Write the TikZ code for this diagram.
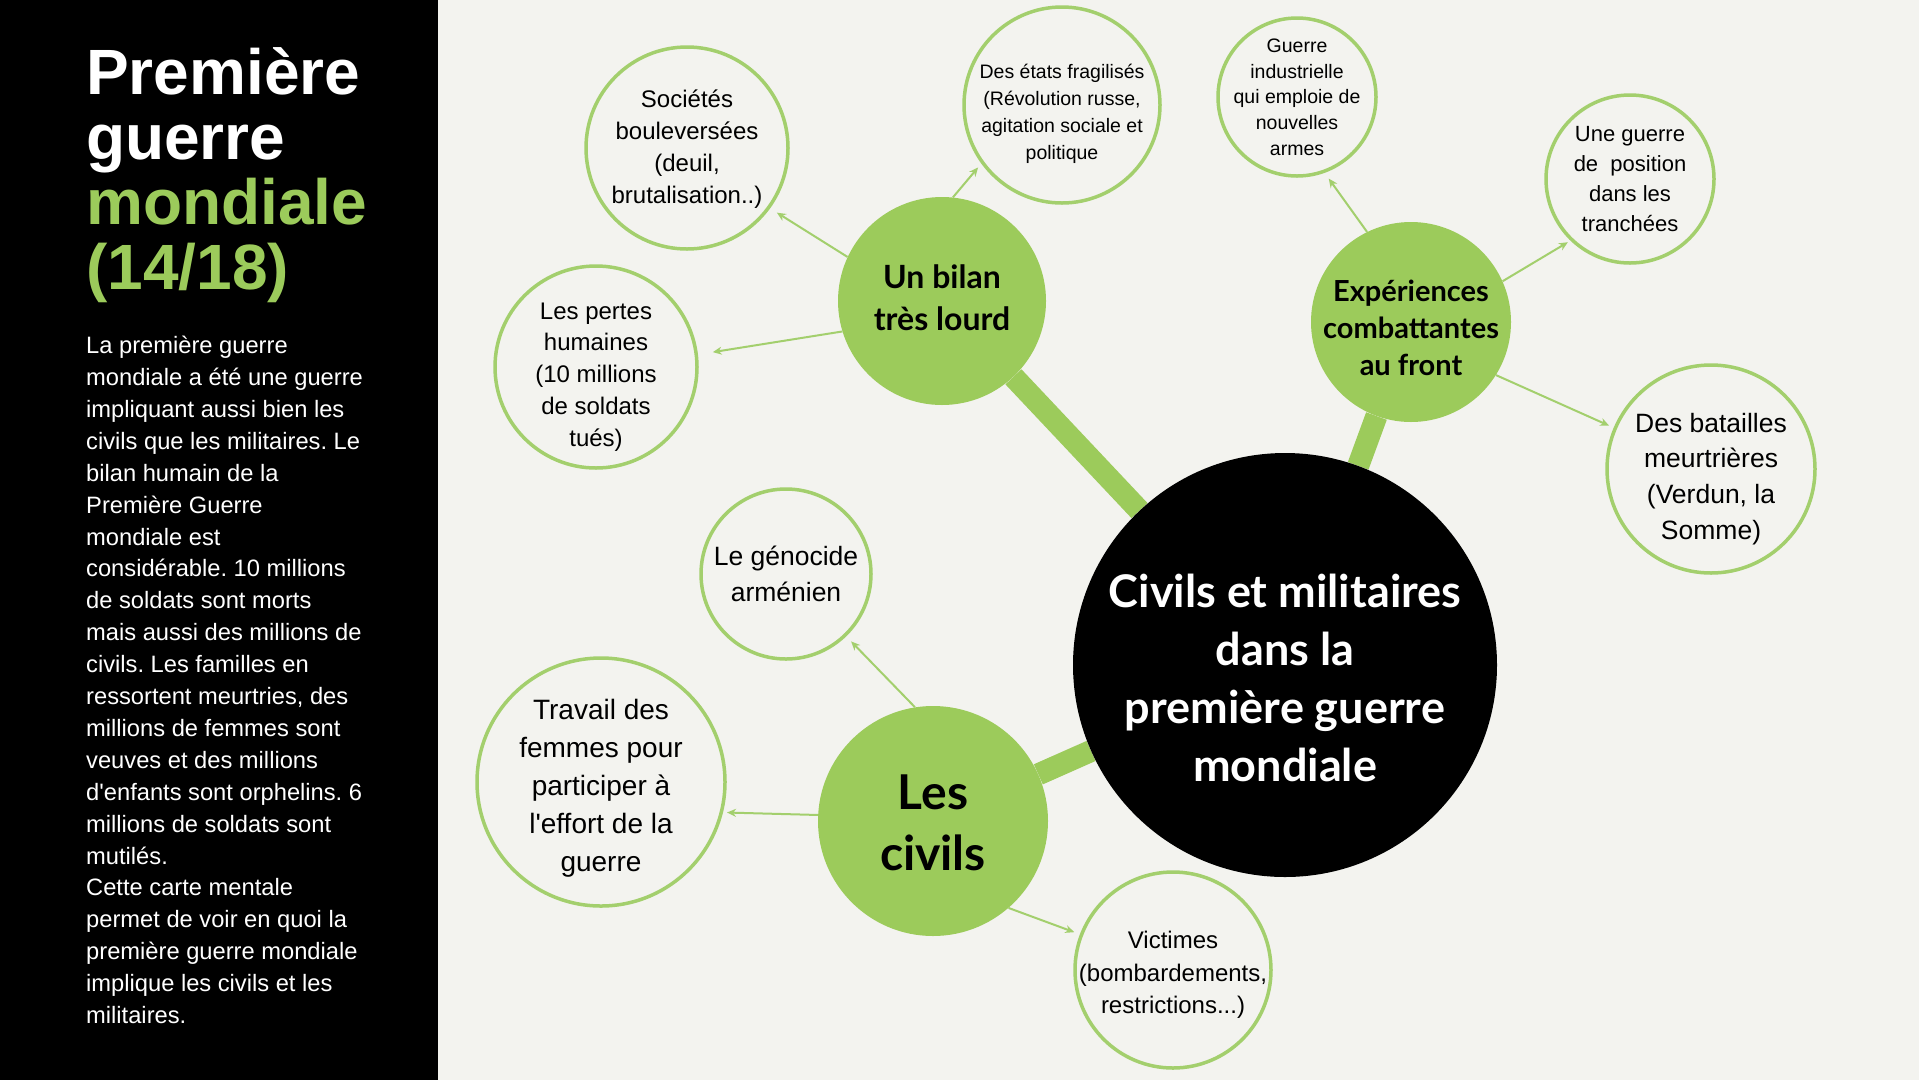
\documentclass[tikz,border=0pt]{standalone}
\usepackage{fontspec}
\setmainfont{Liberation Sans}[Ligatures=TeXOff]
\newfontfamily\latofont{Lato}
\usetikzlibrary{arrows.meta,backgrounds}
\definecolor{bg}{HTML}{F3F3EF}
\definecolor{grn}{HTML}{9CCB5B}
\definecolor{grnline}{HTML}{A3CF6D}
\newcommand{\fs}[2]{\fontsize{#1}{#2}\selectfont}
\frenchspacing
\begin{document}
\begin{tikzpicture}[x=1pt,y=-1pt,
  leaf/.style={circle,draw=grnline,line width=3.5pt,fill=bg,inner sep=0pt},
  hub/.style={circle,fill=grn,inner sep=0pt},
  txt/.style={inner sep=0pt,align=center,text=black},
  arr/.style={grnline,line width=2pt,-{Stealth[length=9pt,width=8pt]}},
  trunk/.style={grn,line width=22pt}]
\useasboundingbox (0,0) rectangle (1919,1080);

% left panel text
\node[anchor=north west,inner sep=0pt,align=left,text=white,
  font=\bfseries\fs{64}{65}] (title) at (86,47)
  {Première\\guerre\\\textcolor{grn}{mondiale}\\\textcolor{grn}{(14/18)}};
\node[anchor=north west,inner sep=0pt,align=left,text=white,
  font=\fs{23.7}{31.9}] (body) at (86,336)
  {La première guerre\\mondiale a été une guerre\\impliquant aussi bien les\\civils que les militaires. Le\\bilan humain de la\\Première Guerre\\mondiale est\\considérable. 10 millions\\de soldats sont morts\\mais aussi des millions de\\civils. Les familles en\\ressortent meurtries, des\\millions de femmes sont\\veuves et des millions\\d'enfants sont orphelins. 6\\millions de soldats sont\\mutilés.\\Cette carte mentale\\permet de voir en quoi la\\première guerre mondiale\\implique les civils et les\\militaires.};

% hubs
\node[circle,fill=black,inner sep=0pt,minimum size=424pt] (ctr) at (1285,665) {};
\node[txt,text=white,font=\latofont\bfseries\fs{45}{58}] (ctrt) at ([yshift=-13pt]ctr.center)
  {Civils et militaires\\dans la\\première guerre\\mondiale};
\node[hub,minimum size=208pt] (bilan) at (942,301) {};
\node[txt,font=\latofont\bfseries\fs{32}{41.6}] (bilant) at ([yshift=3pt]bilan.center) {Un bilan\\très lourd};
\node[hub,minimum size=200pt] (exp) at (1411,322) {};
\node[txt,font=\latofont\bfseries\fs{29}{36.7}] (expt) at ([yshift=-6pt]exp.center) {Expériences\\combattantes\\au front};
\node[hub,minimum size=230pt] (civ) at (933,821) {};
\node[txt,font=\latofont\bfseries\fs{48}{61}] (civt) at ([yshift=-2pt]civ.center) {Les\\civils};

% leaves
\node[leaf,minimum size=202pt] (soc) at (687,148) {};
\node[txt,font=\fs{24}{31.8}] (soct) at ([yshift=-1pt]soc.center) {Sociétés\\bouleversées\\(deuil,\\brutalisation..)};
\node[leaf,minimum size=196pt] (etats) at (1062,105) {};
\node[txt,font=\fs{19.5}{27}] (etatst) at ([yshift=-8.5pt]etats.center) {Des états fragilisés\\(Révolution russe,\\agitation sociale et\\politique};
\node[leaf,minimum size=202pt] (pertes) at (596,367) {};
\node[txt,font=\fs{24}{31.8}] (pertest) at ([yshift=-10pt]pertes.center) {Les pertes\\humaines\\(10 millions\\de soldats\\tués)};
\node[leaf,minimum size=158pt] (gi) at (1297,97) {};
\node[txt,font=\fs{19.5}{25.7}] (git) at (gi.center) {Guerre\\industrielle\\qui emploie de\\nouvelles\\armes};
\node[leaf,minimum size=168pt] (pos) at (1630,179) {};
\node[txt,font=\fs{22}{29.7}] (post) at (pos.center) {Une guerre\\de~ position\\dans les\\tranchées};
\node[leaf,minimum size=208pt] (bat) at (1711,469) {};
\node[txt,font=\fs{26.5}{35.9}] (batt) at ([yshift=-10pt]bat.center) {Des batailles\\meurtrières\\(Verdun, la\\Somme)};
\node[leaf,minimum size=170pt] (gen) at (786,574) {};
\node[txt,font=\fs{26.5}{35.5}] (gent) at (gen.center) {Le génocide\\arménien};
\node[leaf,minimum size=248pt] (fem) at (601,782) {};
\node[txt,font=\fs{28}{38}] (femt) at ([yshift=-6pt]fem.center) {Travail des\\femmes pour\\participer à\\l'effort de la\\guerre};
\node[leaf,minimum size=196pt] (vic) at (1173,970) {};
\node[txt,font=\fs{24}{32.4}] (vict) at ([yshift=-5pt]vic.center) {Victimes\\(bombardements,\\restrictions...)};

% arrows
\draw[arr,shorten >=8pt] (bilan.155.8) -- (soc.-36);
\draw[arr,shorten >=5pt] (bilan.84.6) -- (etats.216);
\draw[arr,shorten >=15pt] (bilan.197.6) -- (pertes.7.2);
\draw[arr,shorten >=7pt] (exp.116.9) -- (gi.-70);
\draw[arr,shorten >=3pt] (exp.24.4) -- (pos.226.7);
\draw[arr,shorten >=5pt] (exp.-32.5) -- (bat.157);
\draw[arr,shorten >=7pt] (civ.99.8) -- (gen.-46);
\draw[arr,shorten >=4pt] (civ.177) -- (fem.-14.3);
\draw[arr,shorten >=6pt] (civ.-49.8) -- (vic.159);

\begin{scope}[on background layer]
\fill[bg] (0,0) rectangle (1919,1080);
\fill[black] (0,0) rectangle (438,1080);
\draw[trunk] (bilan) -- (ctr);
\draw[trunk] (exp) -- (ctr);
\draw[trunk] (civ) -- (ctr);
\end{scope}
\end{tikzpicture}
\end{document}
